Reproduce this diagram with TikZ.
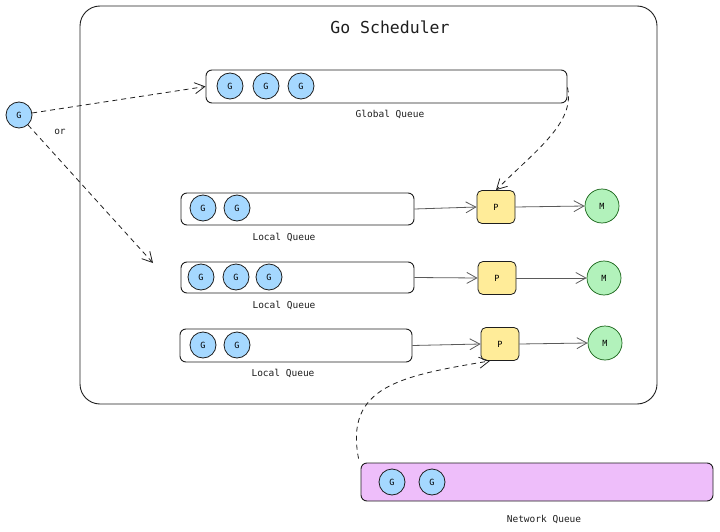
\documentclass[tikz,border=0pt]{standalone}
\usepackage{fontspec}
\setmonofont{DejaVu Sans Mono}
\usetikzlibrary{arrows.meta}
\definecolor{gblue}{HTML}{A5D8FF}
\definecolor{pyellow}{HTML}{FFEC99}
\definecolor{mgreen}{HTML}{B2F2BB}
\definecolor{npink}{HTML}{EEBEFA}
\definecolor{ink}{HTML}{1E1E1E}
\definecolor{arrowgray}{HTML}{5A5A5A}
\tikzset{
  frame/.style={draw=ink, line width=0.9pt, rounded corners=20pt, minimum width=577pt, minimum height=398pt, inner sep=0pt},
  queue/.style={draw=ink, line width=0.9pt, rounded corners=6pt, inner sep=0pt},
  gnode/.style={circle, draw=ink, fill=gblue, line width=0.8pt, minimum size=26pt, inner sep=0pt, font=\ttfamily\fontsize{8.5}{10}\selectfont},
  pnode/.style={draw=ink, fill=pyellow, line width=0.8pt, rounded corners=5pt, minimum width=38pt, minimum height=33pt, inner sep=0pt, font=\ttfamily\fontsize{8.5}{10}\selectfont},
  mnode/.style={circle, draw=ink!70!green, fill=mgreen, line width=0.7pt, minimum size=34pt, inner sep=0pt, font=\ttfamily\fontsize{8.5}{10}\selectfont},
  lbl/.style={font=\ttfamily\fontsize{9.5}{11}\selectfont, text=ink},
  solidarrow/.style={draw=arrowgray, line width=0.8pt, -{Straight Barb[length=10pt,width=11pt]}},
  dasharrow/.style={draw=ink, line width=0.8pt, dash pattern=on 5pt off 4pt, -{Straight Barb[length=10pt,width=11pt]}},
}
\begin{document}
\begin{tikzpicture}[x=1pt,y=-1pt]
\useasboundingbox (0,0) rectangle (720,532);

% main frame
\node[frame] (sched) at (368.5,205) {};
\node[font=\ttfamily\fontsize{16.5}{19}\selectfont, text=ink] (title) at (390,27) {Go Scheduler};

% global queue
\node[queue, minimum width=361pt, minimum height=33pt] (gq) at (386.5,86.5) {};
\node[gnode] (gq1) at (230,86) {G};
\node[gnode] (gq2) at (266,86) {G};
\node[gnode] (gq3) at (301,86) {G};
\node[lbl] (gql) at (390,114) {Global Queue};

% lone G
\node[gnode] (g0) at (19,115) {G};
\node[lbl] (orl) at (60,132) {or};
\coordinate (lqtarget) at (153,263);

% local queues
\node[queue, minimum width=233pt, minimum height=32pt] (lq1) at (297.5,209) {};
\node[gnode] (l1a) at (203,208) {G};
\node[gnode] (l1b) at (237,208) {G};
\node[lbl] (l1l) at (284,237) {Local Queue};

\node[queue, minimum width=233pt, minimum height=31pt] (lq2) at (297.5,277.5) {};
\node[gnode] (l2a) at (201,277) {G};
\node[gnode] (l2b) at (236,277) {G};
\node[gnode] (l2c) at (269,277) {G};
\node[lbl] (l2l) at (284,305) {Local Queue};

\node[queue, minimum width=232pt, minimum height=33pt] (lq3) at (296,345.5) {};
\node[gnode] (l3a) at (203,345) {G};
\node[gnode] (l3b) at (237,345) {G};
\node[lbl] (l3l) at (283,373) {Local Queue};

% P and M
\node[pnode] (p1) at (496,207) {P};
\node[pnode] (p2) at (497,278) {P};
\node[pnode] (p3) at (500,344) {P};
\node[mnode] (m1) at (602,206) {M};
\node[mnode] (m2) at (604,278) {M};
\node[mnode] (m3) at (605,343) {M};

% network queue
\node[queue, fill=npink, minimum width=352pt, minimum height=38pt] (nq) at (537,482) {};
\node[gnode] (n1) at (392,482) {G};
\node[gnode] (n2) at (432,482) {G};
\node[lbl] (nql) at (544,520) {Network Queue};

% arrows
\draw[solidarrow] (lq1.east) -- (p1.west);
\draw[solidarrow] (lq2.east) -- (p2.west);
\draw[solidarrow] (lq3.east) -- (p3.west);
\draw[solidarrow] (p1.east) -- (m1.west);
\draw[solidarrow] (p2.east) -- (m2.west);
\draw[solidarrow] (p3.east) -- (m3.west);

\draw[dasharrow] (g0) -- (gq.west);
\draw[dasharrow] (g0) -- (lqtarget);
\draw[dasharrow] ([yshift=-1pt]gq.east) .. controls +(8,35) and +(40,-40) .. (p1.north);
\draw[dasharrow] ([xshift=-2pt,yshift=4pt]nq.north west) .. controls +(-14,-72) and +(-90,15) .. ([xshift=-10pt]p3.south);
\end{tikzpicture}
\end{document}
